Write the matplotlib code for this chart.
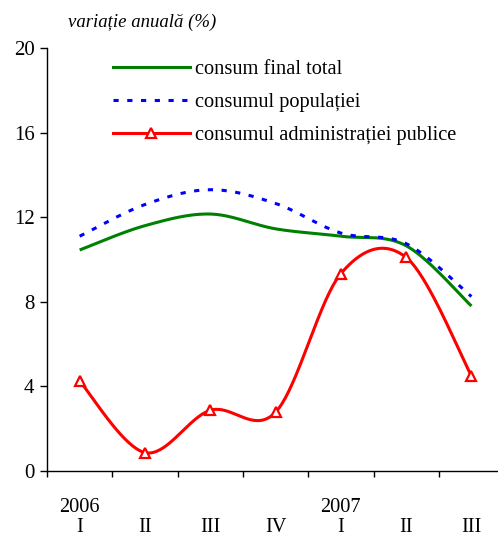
import numpy as np
import matplotlib
matplotlib.use("Agg")
import matplotlib.pyplot as plt
from matplotlib.lines import Line2D
from matplotlib.transforms import blended_transform_factory

# Annual change of final consumption by quarter
quarters = ["I", "II", "III", "IV", "I", "II", "III"]
year_labels = ["2006", "2007"]
year_positions = [0, 4]
total = [10.45, 11.6, 12.15, 11.45, 11.1, 10.65, 7.8]
population = [11.1, 12.6, 13.3, 12.65, 11.25, 10.75, 8.25]
administration = [4.25, 0.87, 2.87, 2.78, 9.33, 10.1, 4.5]
yticks = [0, 4, 8, 12, 16, 20]

series_names = ["consum final total", "consumul populației",
                "consumul administrației publice"]

plt.rcParams["font.family"] = ["Liberation Serif", "DejaVu Serif"]
FS = 14.7


def smooth(y, n=40):
    """Bezier smoothing through every point (Catmull-Rom tangents)."""
    x = np.arange(len(y), dtype=float)
    y = np.asarray(y, dtype=float)
    px = np.concatenate([[x[0]], x, [x[-1]]])
    py = np.concatenate([[y[0]], y, [y[-1]]])
    xs, ys = [], []
    t = np.linspace(0, 1, n)
    for i in range(1, len(px) - 2):
        p0 = np.array([px[i], py[i]])
        p3 = np.array([px[i + 1], py[i + 1]])
        p1 = p0 + (np.array([px[i + 1], py[i + 1]]) - np.array([px[i - 1], py[i - 1]])) / 6
        p2 = p3 - (np.array([px[i + 2], py[i + 2]]) - np.array([px[i], py[i]])) / 6
        b = ((1 - t) ** 3)[:, None] * p0 + (3 * (1 - t) ** 2 * t)[:, None] * p1 \
            + (3 * (1 - t) * t ** 2)[:, None] * p2 + (t ** 3)[:, None] * p3
        xs.append(b[:, 0])
        ys.append(b[:, 1])
    return np.concatenate(xs), np.concatenate(ys)


W, H = 498, 538
fig = plt.figure(figsize=(W / 100, H / 100), dpi=100)
left, bottom, top = 47, 471, 48
cat_w = 65.3
ax = fig.add_axes([left / W, (H - bottom) / H, 7 * cat_w / W, (bottom - top) / H])

green = "#008000"
blue = "#0000FF"
red = "#FF0000"
lw = 2.2
dots = (0, (1.7, 2.8))

x, y = smooth(total)
ax.plot(x, y, color=green, lw=lw, solid_capstyle="butt")
x, y = smooth(population)
ax.plot(x, y, color=blue, lw=lw, linestyle=dots, dash_capstyle="butt")
x, y = smooth(administration)
ax.plot(x, y, color=red, lw=lw)
ax.plot(range(len(administration)), administration, linestyle="none", marker="^",
        ms=7, mfc="white", mec=red, mew=1.6)

ax.set_xlim(-0.5, 6.5)
ax.set_ylim(0, 20)
ax.set_yticks(yticks)
ax.set_yticklabels([str(v) for v in yticks], fontsize=15)
ax.set_xticks(np.arange(-0.5, 7, 1))
ax.set_xticklabels([])
ax.tick_params(axis="y", direction="out", length=5, width=1, pad=4)
ax.tick_params(axis="x", direction="out", length=4.5, width=1)
for s in ["top", "right"]:
    ax.spines[s].set_visible(False)
for s in ["left", "bottom"]:
    ax.spines[s].set_linewidth(1)

trans = blended_transform_factory(ax.transData, ax.transAxes)
hpx = bottom - top
for lab, pos in zip(year_labels, year_positions):
    ax.text(pos, (bottom - 507) / hpx, lab, transform=trans, ha="center",
            va="center", fontsize=FS)
for i, q in enumerate(quarters):
    ax.text(i, (bottom - 527.5) / hpx, q, transform=trans, ha="center",
            va="center", fontsize=FS)

fig.text(68 / W, 1 - 22 / H, "variație anuală (%)", style="italic",
         fontsize=13.5, ha="left", va="center")

handles = [
    Line2D([], [], color=green, lw=lw),
    Line2D([], [], color=blue, lw=lw, linestyle=dots),
    Line2D([], [], color=red, lw=lw, marker="^", ms=7, mfc="white",
           mec=red, mew=1.6),
]
fig.legend(handles, series_names, loc="upper left",
           bbox_to_anchor=(113 / W, 1 - 59.5 / H), frameon=False,
           fontsize=FS, handlelength=3.75, handletextpad=0.25,
           labelspacing=0.68, borderpad=0, borderaxespad=0, numpoints=1)

fig.savefig("out.png", dpi=100)
